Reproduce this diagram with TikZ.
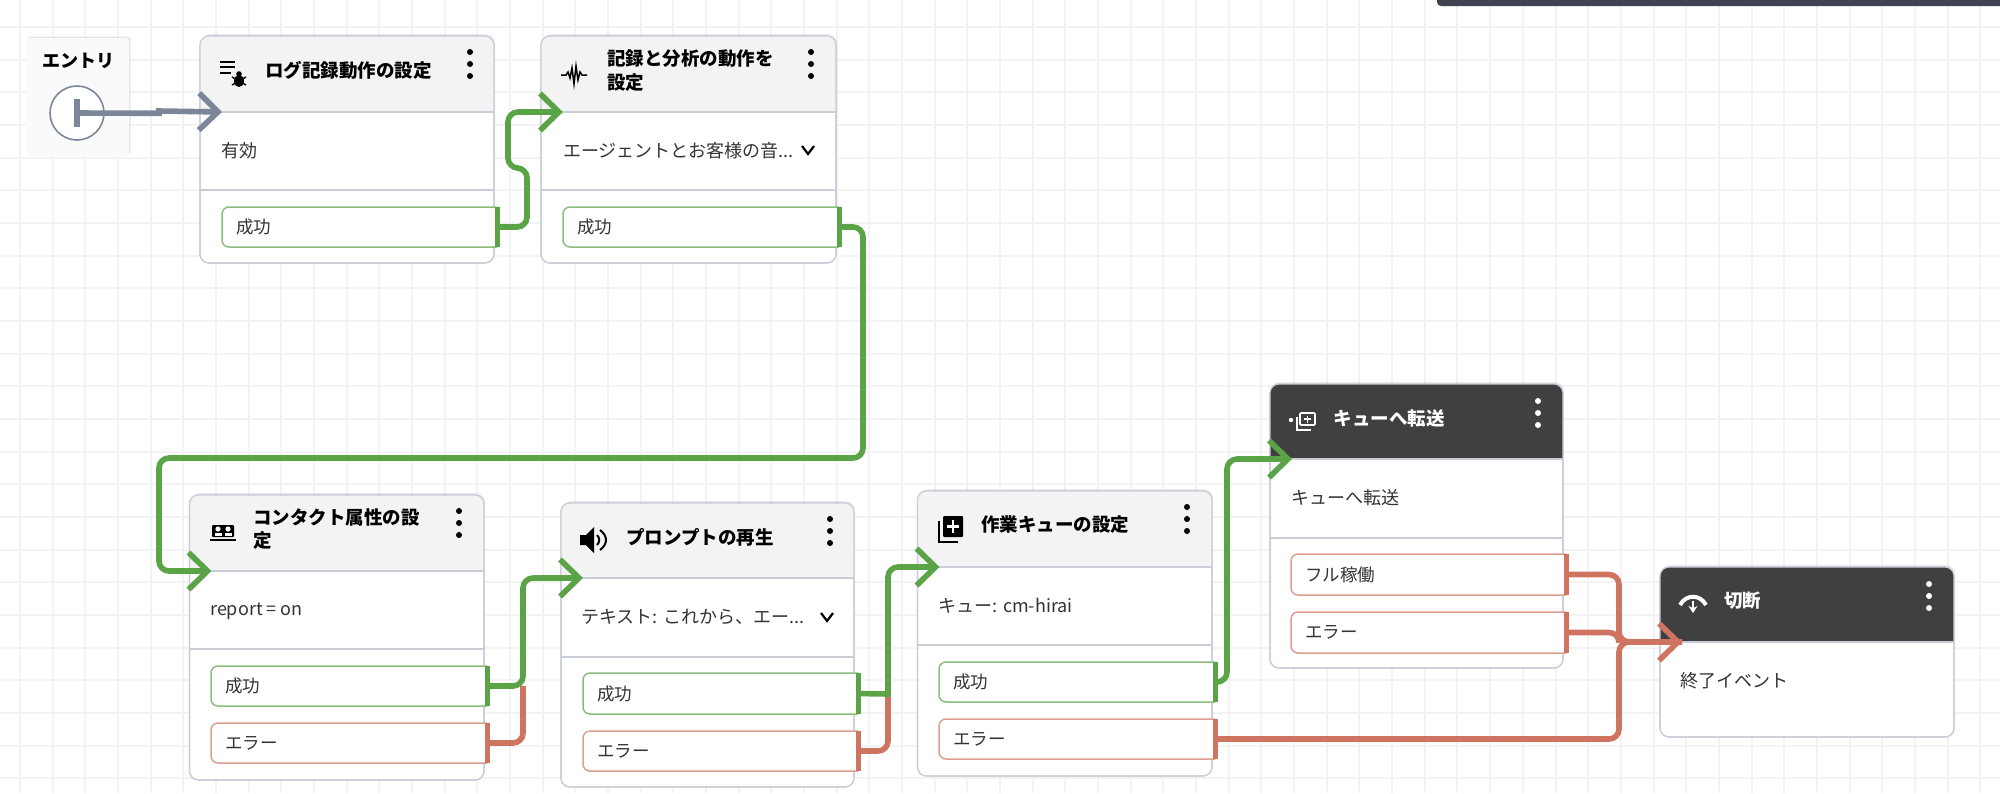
\documentclass[tikz,border=0pt]{standalone}
\usepackage{fontspec}
\setmainfont{Noto Sans CJK JP}
\usetikzlibrary{arrows.meta,shadows}
\definecolor{gridgrey}{HTML}{F3F3F4}
\definecolor{edgegrey}{HTML}{C9CDD8}
\definecolor{headgrey}{HTML}{F3F3F4}
\definecolor{headdark}{HTML}{404040}
\definecolor{topbar}{HTML}{3F4350}
\definecolor{flowgreen}{HTML}{5AA346}
\definecolor{flowred}{HTML}{CF7460}
\definecolor{flowslate}{HTML}{7B8799}
\definecolor{inkgrey}{HTML}{333333}
\tikzset{
	gridline/.style={line width=2, color=gridgrey},
	cardbox/.style={draw=edgegrey, line width=1.2, fill=white, rounded corners=9, inner sep=0, outer sep=0,
		drop shadow={shadow xshift=1, shadow yshift=-2, opacity=0.14}},
	entrybox/.style={fill=black!2, rounded corners=3, inner sep=0, outer sep=0,
		drop shadow={shadow xshift=1.5, shadow yshift=-1.5, opacity=0.2}},
	cardtitle/.style={anchor=west, align=left, inner sep=0, font=\fontsize{18.5}{23.5}\selectfont\bfseries},
	cardtext/.style={anchor=west, inner sep=0, yshift=-1, text=inkgrey, font=\fontsize{18}{22}\selectfont},
	outcomebox/.style={anchor=north west, fill=white, text=inkgrey, inner xsep=14, inner ysep=0, outer sep=0, align=left, font=\fontsize{17.5}{21}\selectfont},
	flowline/.style={line width=5.6, rounded corners=10},
	flowtip/.style={-{Straight Barb[length=19, width=37]}},
	chevron/.style={line width=2.2, color=black},
	iconline/.style={line width=2, color=black},
}
% card: style(name)(left,top,right,bottom:head bottom,foot line)
\def\flowcard[#1](#2)(#3,#4,#5,#6:#7,#8){
	\node[cardbox, anchor=north west, minimum width={#5-#3}, minimum height={#6-#4}] (#2) at (#3,#4) {};
	\begin{scope}
		\clip[rounded corners=9] (#3,#4) rectangle (#5,#6);
		\fill[#1] (#3,#4) rectangle (#5,#7);
	\end{scope}
	\draw[edgegrey, line width=1.2, rounded corners=9] (#3,#4) rectangle (#5,#6);
	\draw[edgegrey, line width=1.2] (#3,#7) -- (#5,#7);
	\draw[edgegrey, line width=1.2] (#3,#8) -- (#5,#8);
	\coordinate (#2in) at (#3+22,#7);
}
\def\menudots[#1](#2,#3){
	\fill[#1] (#2,#3+16) circle (3);
	\fill[#1] (#2,#3+28) circle (3);
	\fill[#1] (#2,#3+40) circle (3);
}
% outcome row: colour(name)(left,top,right,bottom)text
\def\outcome[#1](#2)(#3,#4,#5,#6)#7{
	\node[outcomebox, text width={#5-#3-28}, minimum height={#6-#4}] (#2) at (#3,#4) {\raisebox{-1pt}{#7}};
	\draw[#1!70!white, line width=1.5, rounded corners=7] (#2.north east) -- (#2.north west) -- (#2.south west) -- (#2.south east);
	\draw[#1, line width=5] (#2.north east) -- (#2.south east);
}

\begin{document}
\begin{tikzpicture}[x=1pt, y=-1pt]
	\useasboundingbox (0,0) rectangle (2000,793);
	%%%%% GRID %%%%%
	\foreach \gx in {0,...,60} \draw[gridline] ({20+\gx*32.67},0) -- ++(0,793);
	\foreach \gy in {0,...,23} \draw[gridline] (0,{27+\gy*32.67}) -- ++(2000,0);
	\fill[topbar, rounded corners=4] (1437,-12) rectangle (2012,6);

	%%%%% ENTRY %%%%%
	\node[entrybox, anchor=north west, minimum width=103, minimum height=118] (entrycard) at (26,38) {};
	\node[cardtitle, anchor=center, font=\fontsize{18}{22}\selectfont\bfseries] (entrylabel) at (78,61) {エントリ};
	\node[circle, draw=flowslate, line width=1.6, fill=white, minimum size=54, inner sep=0] (entrystart) at (77,113) {};

	%%%%% CARDS %%%%%
	\flowcard[headgrey](logcard)(200,36,494,263:112,190)
	\menudots[black](470,36)
	\node[cardtitle] (logtitle) at (265,70) {ログ記録動作の設定};
	\node[cardtext] (logtext) at (221,150) {有効};
	\outcome[flowgreen](logok)(222,207,497,247){成功}

	\flowcard[headgrey](reccard)(541,36,836,263:112,190)
	\menudots[black](811,36)
	\node[cardtitle] (rectitle) at (607,70.5) {記録と分析の動作を\\設定};
	\node[cardtext] (rectext) at (563,150) {エージェントとお客様の音...};
	\outcome[flowgreen](recok)(563,207,839,247){成功}

	\flowcard[headgrey](attrcard)(189.5,495,484,780:571,649)
	\menudots[black](459,495)
	\node[cardtitle] (attrtitle) at (253,529) {コンタクト属性の設\\定};
	\node[cardtext] (attrtext) at (210,610) {report = on};
	\outcome[flowgreen](attrok)(211,666,487,706){成功}
	\outcome[flowred](attrerr)(211,723,487,763){エラー}

	\flowcard[headgrey](promptcard)(561,503,854,787:578,657)
	\menudots[black](830,503)
	\node[cardtitle] (prompttitle) at (626,537) {プロンプトの再生};
	\node[cardtext] (prompttext) at (581,616) {テキスト: これから、エー...};
	\outcome[flowgreen](promptok)(583,673,858,714){成功}
	\outcome[flowred](prompterr)(583,731,858,771){エラー}

	\flowcard[headgrey](workcard)(917.5,491,1212,776:567,645)
	\menudots[black](1187,491)
	\node[cardtitle] (worktitle) at (981,525) {作業キューの設定};
	\node[cardtext] (worktext) at (938.5,605) {キュー: cm-hirai};
	\outcome[flowgreen](workok)(939,662,1215,702){成功}
	\outcome[flowred](workerr)(939,719,1215,759){エラー}

	\flowcard[headdark](sendcard)(1270,384,1563,668:459,538)
	\menudots[white](1538,385)
	\node[cardtitle, text=white] (sendtitle) at (1333.5,418) {キューへ転送};
	\node[cardtext] (sendtext) at (1291,497) {キューへ転送};
	\outcome[flowred](sendfull)(1291,554,1566,595){フル稼働}
	\outcome[flowred](senderr)(1291,612,1566,653){エラー}

	\flowcard[headdark](endcard)(1660,567,1954,737:642,642)
	\menudots[white](1929,568)
	\node[cardtitle, text=white] (endtitle) at (1724,601) {切断};
	\node[cardtext] (endtext) at (1680,680) {終了イベント};

	%%%%% ICONS %%%%%
	\draw[iconline] (220,62) -- (235,62);
	\draw[iconline] (220,67) -- (235,67);
	\draw[iconline] (220,73) -- (231,73);
	\fill[black] (239,81) ellipse (5 and 6);
	\draw[line width=1.4] (232,77) -- (246,85);
	\draw[line width=1.4] (246,77) -- (232,85);
	\fill[black] (239,74) circle (2.8);

	\draw[line width=1.5] (561,75) -- (566,75) -- (568,72) -- (570,78) -- (572,68) -- (574,84) -- (576,66) -- (578,80) -- (580,72) -- (582,75) -- (587,75);

	\fill[black, rounded corners=1] (212,525) rectangle (234,537);
	\fill[white] (218,529) circle (2.6);
	\fill[white] (228,529) circle (2.6);
	\fill[white] (214.5,536) rectangle (221.5,533);
	\fill[white] (224.5,536) rectangle (231.5,533);
	\draw[iconline] (210,540) -- (236,540);

	\fill[black] (580,535) -- (586,535) -- (594,527) -- (594,553) -- (586,545) -- (580,545) -- cycle;
	\draw[iconline] (597,535) .. controls (600,538) and (600,542) .. (597,545);
	\draw[iconline] (600,530) .. controls (608,536) and (608,544) .. (600,550);

	\fill[black, rounded corners=1] (943,516) rectangle (963,537);
	\draw[white, line width=2.4] (947,526.5) -- (959,526.5);
	\draw[white, line width=2.4] (953,520) -- (953,533);
	\draw[iconline] (939,521) -- (939,542) -- (958,542);

	\draw[white, line width=1.6, rounded corners=1] (1300,413) rectangle (1315,425);
	\draw[white, line width=1.4] (1304,419) -- (1311,419);
	\draw[white, line width=1.4] (1307.5,415.5) -- (1307.5,422.5);
	\draw[white, line width=1.4] (1297,417) -- (1297,430) -- (1311,430);
	\fill[white] (1291,420) circle (2.2);

	\draw[white, line width=4] (1680,605) .. controls (1686,594) and (1700,594) .. (1706,605);
	\draw[white, line width=2.4, -{Stealth[length=7, width=9]}] (1693,601) -- (1693,613);

	\draw[chevron] (802,146) -- (808,154) -- (814,146);
	\draw[chevron] (821,613) -- (827,621) -- (833,613);

	%%%%% CONNECTORS %%%%%
	\coordinate (entrybend) at (159,111);
	\draw[flowslate, line width=5.6] ([yshift=14]entrystart.center) -- ([yshift=-14]entrystart.center);
	\draw[flowslate, line width=5.6, flowtip] (entrystart.center) -- (159,113.3) -- (entrybend) -- (logcardin);

	\draw[flowgreen, flowline, flowtip] (logok.east) -| (527,168) -| (508,112) -- (reccardin);
	\draw[flowgreen, flowline, flowtip] (recok.east) -| (863,458) -| (159,571) -- (attrcardin);

	\draw[flowred, flowline] (attrerr.east) -| (523,686);
	\draw[flowgreen, flowline, flowtip] (attrok.east) -| (523,578) -- (promptcardin);

	\draw[flowred, flowline] (prompterr.east) -| (888,694);
	\draw[flowgreen, flowline, flowtip] (promptok.east) [sharp corners] -- (888,694) [rounded corners=10] -- (888,567) -- (workcardin);

	\draw[flowgreen, flowline, flowtip] (workok.east) -| (1227,459) -- (sendcardin);

	\draw[flowred, flowline] (sendfull.east) -| (1619,642) -- (endcardin);
	\draw[flowred, flowline] (senderr.east) -| (1619,642) -- (endcardin);
	\draw[flowred, flowline, flowtip] (workerr.east) -| (1619,642) -- (endcardin);
\end{tikzpicture}
\end{document}
